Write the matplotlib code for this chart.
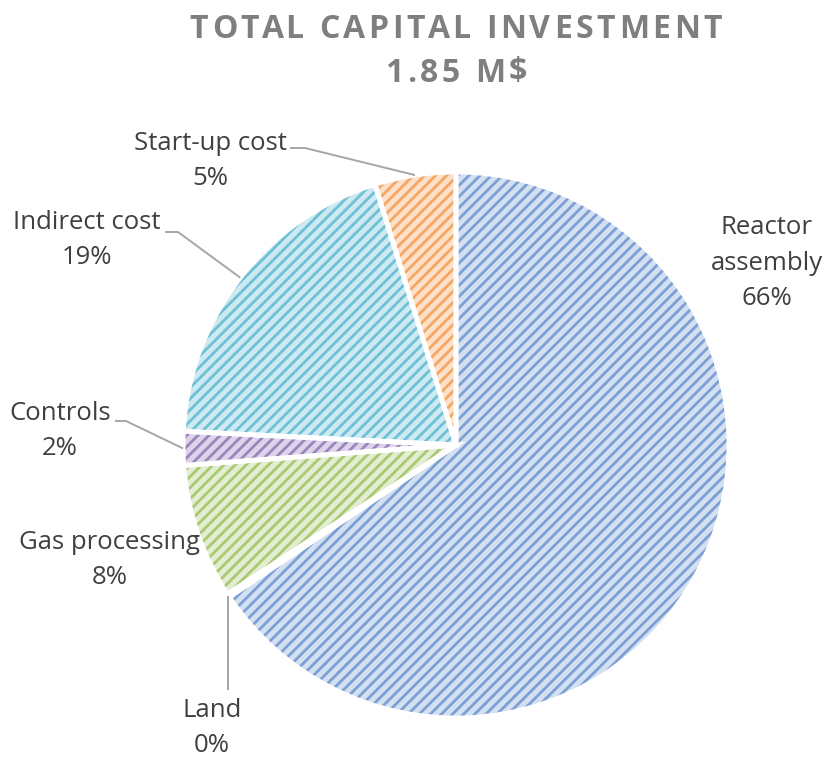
import matplotlib
matplotlib.use("Agg")
from matplotlib import pyplot as plt
from matplotlib.font_manager import FontProperties
import numpy as np

# capital investment breakdown, percent of total (clockwise from 12 o'clock)
categories = ["Reactor\nassembly", "Land", "Gas processing", "Controls", "Indirect cost", "Start-up cost"]
shares = [65.6, 0.2, 8.0, 2.0, 19.4, 4.8]
title_lines = ["TOTAL CAPITAL INVESTMENT", "1.85 M$"]

fill_colors = ["#d3e0f2", "#f0cfce", "#e3edd1", "#ddd3ea", "#cdeaf2", "#fde0c8"]
hatch_colors = ["#7c9fd4", "#cc7a78", "#a9c970", "#9a86bb", "#6fc0d6", "#f5a662"]

# label block centres in pixels (top-left origin), plus leader elbows
label_pos = [(767, 263), (212, 728), (110, 560), (60, 431), (87, 240), (210, 161)]
leaders = {1: None, 3: [(115, 421), (126, 421)], 4: [(165, 232), (178, 232)], 5: [(290, 148), (305, 148)]}

W, H = 824, 758
plt.rcParams['hatch.linewidth'] = 2.0
plt.rcParams['font.family'] = ['Open Sans', 'DejaVu Sans']

fig = plt.figure(figsize=(W / 100, H / 100), dpi=100)
ax = fig.add_axes([0, 0, 1, 1])

cx, cy, r = 456, H - 445, 273

wedges, _ = ax.pie(shares, colors=fill_colors, startangle=90, counterclock=False,
                   center=(cx, cy), radius=r, wedgeprops=dict(linewidth=0))
hatched, _ = ax.pie(shares, startangle=90, counterclock=False, center=(cx, cy), radius=r,
                    wedgeprops=dict(linewidth=0, facecolor='none'))
for w, hc in zip(hatched, hatch_colors):
    w.set_edgecolor(hc)
    w.set_hatch('///')
ax.pie(shares, startangle=90, counterclock=False, center=(cx, cy), radius=r,
       wedgeprops=dict(linewidth=3.5, facecolor='none', edgecolor='white'))

ax.set_xlim(0, W)
ax.set_ylim(0, H)
ax.set_aspect('equal')
ax.axis('off')

line_kw = dict(color='#a6a6a6', lw=1.4, solid_capstyle='butt')
for i, (cat, val, w) in enumerate(zip(categories, shares, wedges)):
    mid = np.deg2rad((w.theta1 + w.theta2) / 2)
    ex, ey = cx + r * np.cos(mid), cy + r * np.sin(mid)
    lx, ly = label_pos[i]
    ax.text(lx, H - ly, f"{cat}\n{val:.0f}%", ha='center', va='center',
            fontsize=18.5, color='#404040', linespacing=1.55)
    if i in leaders:
        if leaders[i] is None:
            ax.plot([ex, ex], [H - 690, ey], **line_kw)
        else:
            xs = [p[0] for p in leaders[i]] + [ex]
            ys = [H - p[1] for p in leaders[i]] + [ey]
            ax.plot(xs, ys, **line_kw)

# letter-spaced title
renderer = fig.canvas.get_renderer()
fp = FontProperties(family=['Open Sans', 'DejaVu Sans'], weight='bold', size=23)
tracking = 3.6
for s, ty in zip(title_lines, [30, 73]):
    widths = [renderer.get_text_width_height_descent(s[:k], fp, ismath=False)[0] if k else 0
              for k in range(len(s) + 1)]
    total = widths[-1] + tracking * (len(s) - 1)
    x0 = cx - total / 2
    for k, ch in enumerate(s):
        fig.text((x0 + widths[k] + tracking * k) / W, 1 - ty / H, ch, fontproperties=fp,
                 color='#7f7f7f', ha='left', va='center')

fig.savefig("out.png", dpi=100)
